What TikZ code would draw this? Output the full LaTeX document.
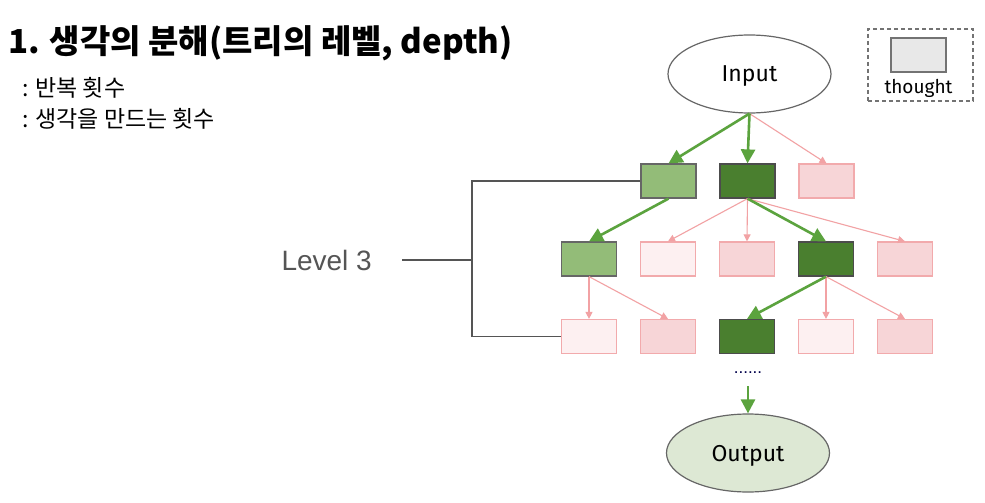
\documentclass[tikz,border=0pt]{standalone}
\usepackage{fontspec}
\setmainfont{Liberation Sans}
\newfontfamily\krfont{Noto Sans CJK KR}
\newfontfamily\dgfont{Fira Sans}
\usetikzlibrary{positioning,shapes.geometric,arrows.meta}
\definecolor{lgreen}{HTML}{93BC78}
\definecolor{dgreen}{HTML}{4A7F2F}
\definecolor{pinkf}{HTML}{F7D5D7}
\definecolor{palef}{HTML}{FDF0F1}
\definecolor{pinkd}{HTML}{F2AAAC}
\definecolor{arrgreen}{HTML}{5BA33E}
\definecolor{arrpink}{HTML}{F2A2A4}
\definecolor{outf}{HTML}{DDE8D4}
\definecolor{linegray}{HTML}{555555}

\begin{document}
\begin{tikzpicture}[x=1pt, y=-1pt, node distance=22.8pt,
  thought/.style={draw, line width=1.2pt, minimum width=55pt, minimum height=34pt, inner sep=0pt},
  lg/.style={thought, fill=lgreen, draw=gray!80!black},
  dg/.style={thought, fill=dgreen, draw=gray!60!black},
  pk/.style={thought, fill=pinkf, draw=pinkd},
  pl/.style={thought, fill=palef, draw=pinkd},
  io/.style={ellipse, draw=gray!80!black, line width=1.2pt, minimum width=163pt, minimum height=78pt, inner sep=0pt, text depth=0pt, font=\dgfont\fontsize{23}{26}\selectfont},
  txt/.style={inner sep=0pt},
  gbig/.style={draw=arrgreen, line width=2.6pt, -{Triangle[length=14pt,width=14pt]}},
  pthin/.style={draw=arrpink, line width=1.1pt, -{Triangle[length=7pt,width=7pt]}},
  bracket/.style={draw=linegray, line width=1.2pt}]
\path[fill=white, use as bounding box] (0,0) rectangle (985,503);

% heading
\node (title) [txt, anchor=base west] at (8,53) {\krfont\bfseries\fontsize{33}{38}\selectfont 1. 생각의 분해(트리의 레벨, depth)};
\node (sub1) [txt, anchor=base west] at (22,96) {\krfont\fontsize{23}{26}\selectfont : 반복 횟수};
\node (sub2) [txt, anchor=base west] at (22,127) {\krfont\fontsize{23}{26}\selectfont : 생각을 만드는 횟수};

% legend
\node (leg) [draw=gray!90!black, dash pattern=on 4pt off 3pt, line width=1.2pt, minimum width=105pt, minimum height=72pt] at (920.5,65) {};
\node (legbox) [thought, fill=gray!18, draw=gray!90!black, line width=1.5pt] at (918.5,55) {};
\node (legtxt) [txt, below=6pt of legbox, font=\dgfont\fontsize{19}{21}\selectfont] {thought};

% tree
\node (in) [io] at (749.5,74) {Input};

\node (b11) [lg] at (668.5,181) {};
\node (b12) [dg, right=of b11] {};
\node (b13) [pk, right=of b12] {};

\node (b21) [lg] at (589,259) {};
\node (b22) [pl, right=of b21] {};
\node (b23) [pk, right=of b22] {};
\node (b24) [dg, right=of b23] {};
\node (b25) [pk, right=of b24] {};

\node (b31) [pl] at (589,336.5) {};
\node (b32) [pk, right=of b31] {};
\node (b33) [dg, right=of b32] {};
\node (b34) [pl, right=of b33] {};
\node (b35) [pk, right=of b34] {};

\node (dots) [txt, text=black!70!blue, font=\fontsize{17}{17}\selectfont] at (748,373) {......};
\node (out) [io, fill=outf] at (748,453) {Output};

\draw[pthin] (in.south) -- (b13.north);
\draw[gbig] (in.south) -- (b11.north);
\draw[gbig] (in.south) -- (b12.north);

\draw[pthin] (b12.south) -- (b22.north);
\draw[pthin] (b12.south) -- (b23.north);
\draw[pthin] (b12.south) -- (b25.north);
\draw[gbig] (b12.south) -- (b24.north);
\draw[gbig] (b11.south) -- (b21.north);

\draw[pthin] (b21.south) -- (b31.north);
\draw[pthin] (b21.south) -- (b32.north);
\draw[pthin] (b24.south) -- (b34.north);
\draw[pthin] (b24.south) -- (b35.north);
\draw[gbig] (b24.south) -- (b33.north);

\draw[gbig, shorten <=12pt] (dots) -- (out);

% level bracket
\node (lvl) [txt, anchor=east, text=linegray, font=\fontsize{28}{32}\selectfont] at (372,260) {Level 3};
\coordinate (lvlx) at (472,260);
\draw[bracket] (b11.west) -| (lvlx) |- (b31.west);
\draw[bracket, shorten <=30pt] (lvl.east) -- (lvlx);
\end{tikzpicture}
\end{document}
